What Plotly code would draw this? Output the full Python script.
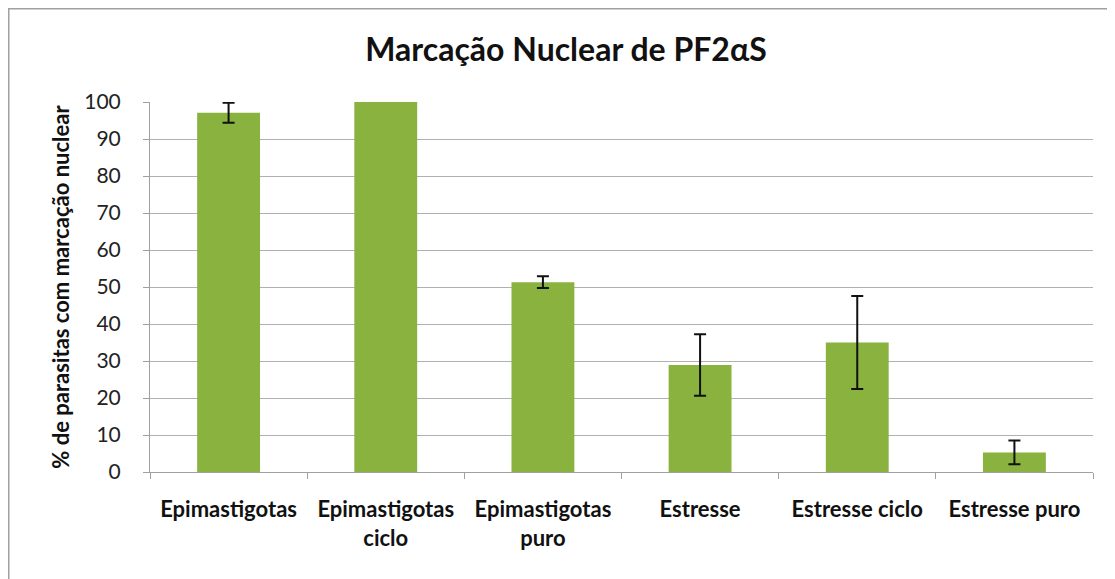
import plotly.graph_objects as go

categories = ["Epimastigotas", "Epimastigotas<br>ciclo", "Epimastigotas<br>puro",
              "Estresse", "Estresse ciclo", "Estresse puro"]
values = [97.1, 100.0, 51.3, 28.9, 35.0, 5.3]
errors = [2.7, 0.0, 1.6, 8.3, 12.6, 3.2]
y_ticks = [0, 10, 20, 30, 40, 50, 60, 70, 80, 90, 100]

FONT = "Lato, 'Open Sans', sans-serif"

# error bars only for categories with a non-zero error
err_x = [c for c, e in zip(categories, errors) if e > 0]
err_y = [v for v, e in zip(values, errors) if e > 0]
err_v = [e for e in errors if e > 0]

fig = go.Figure()
fig.add_trace(go.Bar(
    x=categories, y=values, width=0.4,
    marker=dict(color="#8ab23f", line=dict(width=0)),
))
fig.add_trace(go.Scatter(
    x=err_x, y=err_y, mode="markers", marker=dict(size=0.1, color="rgba(0,0,0,0)"),
    error_y=dict(type="data", array=err_v, visible=True,
                 color="#111111", thickness=2, width=6),
    hoverinfo="skip",
))

# page has 8px body margin, so figure is offset by 8px
OFF = 8
W, H = 1115 - OFF, 579 - OFF
L, R, T, B = 150 - OFF, 1115 - 1093, 102 - OFF, 579 - 472
pw, ph = W - L - R, H - T - B

def px(x):
    return (x - L) / pw

def py(y):
    return (H - B - y) / ph

fig.update_layout(
    width=W, height=H,
    margin=dict(l=L, r=R, t=T, b=B),
    paper_bgcolor="white", plot_bgcolor="white",
    showlegend=False,
    title=dict(text="<b>Marcação Nuclear de PF2αS</b>", x=(566 - OFF) / W, xanchor="center",
               y=1 - (50 - OFF) / H, yanchor="middle",
               font=dict(family=FONT, size=32, color="#111111")),
    font=dict(family=FONT, color="#111111"),
    xaxis=dict(
        type="category", showgrid=False, showline=True, linecolor="#a0a0a0", linewidth=1,
        ticks="outside", tickson="boundaries", ticklen=6, tickcolor="#a0a0a0",
        ticklabelstandoff=18,
        tickfont=dict(family=FONT, size=22, color="#111111"),
        tickprefix="<b>", ticksuffix="</b>",
    ),
    yaxis=dict(
        range=[0, 100], tickvals=y_ticks, showgrid=True, gridcolor="#b0b0b0", gridwidth=1,
        showline=True, linecolor="#a0a0a0", linewidth=1, ticks="outside", ticklen=6,
        tickcolor="#a0a0a0", zeroline=False, ticklabelstandoff=18,
        tickfont=dict(family=FONT, size=21, color="#222222"),
        title=dict(text="<b>% de parasitas com marcação nuclear</b>", standoff=8,
                   font=dict(family=FONT, size=22, color="#111111")),
    ),
    shapes=[dict(type="rect", xref="paper", yref="paper",
                 x0=px(0.5), x1=px(W + 20), y0=py(H + 20), y1=py(0.5),
                 line=dict(color="#a0a0a0", width=2), layer="below")],
)

fig.write_html("out.html")
